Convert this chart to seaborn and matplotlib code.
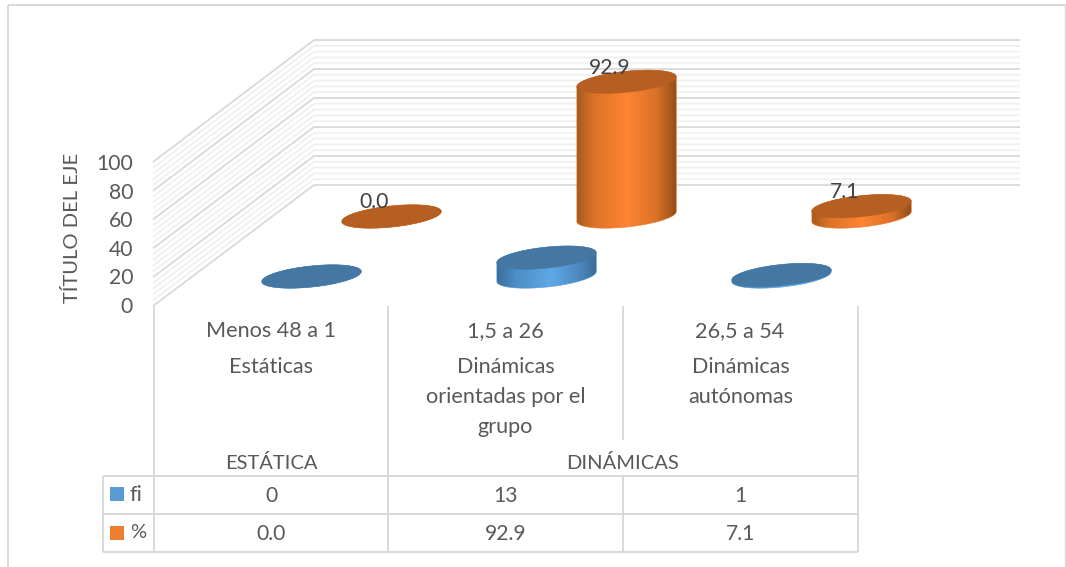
import numpy as np
import matplotlib
matplotlib.use("Agg")
import matplotlib.pyplot as plt
from matplotlib.colors import LinearSegmentedColormap
from matplotlib.patches import Polygon, Rectangle
import seaborn as sns

# datos
rangos = ["Menos 48 a 1", "1,5 a 26", "26,5 a 54"]
niveles = [["Estáticas"], ["Dinámicas", "orientadas por el", "grupo"], ["Dinámicas", "autónomas"]]
grupos = ["ESTÁTICA", "DINÁMICAS"]
fi = [0, 13, 1]
pct = [0.0, 92.9, 7.1]
y_ticks = [0, 20, 40, 60, 80, 100]
y_title = "TÍTULO DEL EJE"

W, H = 1066, 567
GRIS = "#d9d9d9"
TEXTO = "#595959"

# geometria del dibujo en pixeles
PX_VAL = 1.45      # pixeles por unidad del eje y
PX_CAT = 235       # pixeles entre categorias
RX, RY, TILT = 50, 10.5, np.radians(6)

sns.set_theme(style="white")
plt.rcParams["font.family"] = ["Lato", "DejaVu Sans"]
FS = 15.6      # texto en minusculas
FS_NUM = 15.2  # numeros
FS_CAP = 14.5  # mayusculas

fig = plt.figure(figsize=(W / 100, H / 100), dpi=100)
ax = fig.add_axes([0, 0, 1, 1])
ax.set_xlim(0, W)
ax.set_ylim(H, 0)
ax.set_axis_off()


def linea(xs, ys, color=GRIS, lw=1.4):
    ax.plot(xs, ys, color=color, lw=lw, solid_capstyle="butt")


# marco exterior
linea([8, W], [5, 5])
linea([8, 8], [5, H])
linea([1065, 1065], [5, H], lw=1.0)

# paredes: lineas secundarias primero
for v in range(0, 101, 4):
    if v % 20 == 0:
        continue
    linea([153, 314, 1020], [306 - 1.44 * v, 185 - 1.45 * v, 185 - 1.45 * v], color="#f0f0f0", lw=1.3)
for v in y_ticks:
    linea([153, 314, 1020], [306 - 1.44 * v, 185 - 1.45 * v, 185 - 1.45 * v], lw=1.3)
    ax.text(133, 307 - 1.43 * v, str(v), ha="right", va="center", fontsize=FS_NUM, color=TEXTO)
ax.text(72, 228, y_title, rotation=90, ha="center", va="center", fontsize=FS_CAP, color=TEXTO)

# tabla de datos
x_col = [154, 388, 623, 858]
y_fil = [476, 514, 552]
linea([154, 154], [306, 552])
linea([388, 388], [306, 552])
linea([623, 623], [306, 440])
linea([623, 623], [476, 552])
linea([858, 858], [306, 552])
linea([103, 103], [476, 552])
for y in y_fil:
    linea([103, 858], [y, y])

for i, r in enumerate(rangos):
    xc = (x_col[i] + x_col[i + 1]) / 2
    ax.text(xc - 0.5, 331, r, ha="center", va="center", fontsize=FS, color=TEXTO)
    for j, t in enumerate(niveles[i]):
        ax.text(xc, 367 + 30 * j, t, ha="center", va="center", fontsize=FS, color=TEXTO)
    ax.text(xc, 496, str(fi[i]), ha="center", va="center", fontsize=FS_NUM, color=TEXTO)
    ax.text(xc, 534, f"{pct[i]:.1f}", ha="center", va="center", fontsize=FS_NUM, color=TEXTO)
ax.text((x_col[0] + x_col[1]) / 2, 463, grupos[0], ha="center", va="center", fontsize=FS_CAP, color=TEXTO)
ax.text((x_col[1] + x_col[3]) / 2, 463, grupos[1], ha="center", va="center", fontsize=FS_CAP, color=TEXTO)

ax.add_patch(Rectangle((110, 487), 14, 14, color="#5b9bd5", lw=0))
ax.add_patch(Rectangle((110, 526), 14, 14, color="#ed7d31", lw=0))
ax.text(130, 495, "fi", ha="left", va="center", fontsize=FS, color=TEXTO)
ax.text(130, 533, "%", ha="left", va="center", fontsize=FS_CAP, color=TEXTO)

cm_azul = LinearSegmentedColormap.from_list(
    "azul", [(0, "#3b6f9e"), (0.2, "#4d8fc7"), (0.55, "#5fa8e8"), (0.85, "#4a85ba"), (1, "#3a6a96")])
cm_nar = LinearSegmentedColormap.from_list(
    "nar", [(0, "#a65a1e"), (0.17, "#dc7229"), (0.5, "#ff8533"), (0.8, "#d97028"), (1, "#8f4d18")])


def elipse(i, v, t):
    ex = RX * np.cos(t) * np.cos(TILT) + RY * np.sin(t) * np.sin(TILT)
    ey = RX * np.cos(t) * np.sin(TILT) - RY * np.sin(t) * np.cos(TILT)
    return np.column_stack([i + ex / PX_CAT, v + ey / PX_VAL])


def cilindros(valores, x0, base, cmap, color, tapa, etiquetas=False):
    # ejes transparentes: y de -20 a 120 para dejar sitio a las elipses
    a = fig.add_axes([(x0 - PX_CAT / 2) / W, (H - base - 20 * PX_VAL) / H,
                      3 * PX_CAT / W, 140 * PX_VAL / H])
    sns.barplot(x=rangos, y=valores, color=color, saturation=1,
                width=2 * RX / PX_CAT, ax=a)
    t0 = np.arctan(RY / RX * np.tan(TILT))
    for i, (bar, v) in enumerate(zip(a.patches, valores)):
        abajo = elipse(i, 0, np.linspace(t0, t0 + np.pi, 100))
        arriba = elipse(i, v, np.linspace(t0 + np.pi, t0 + 2 * np.pi, 100))
        forma = Polygon(np.vstack([abajo, arriba]), closed=True, fc="none",
                        ec=cmap(0.35), lw=0.4, zorder=4)
        a.add_patch(forma)
        bar.set_clip_path(forma)
        im = a.imshow(np.linspace(0, 1, 256)[None, :], cmap=cmap, aspect="auto",
                      extent=(i - RX / PX_CAT, i + RX / PX_CAT, -20, 120), zorder=3)
        im.set_clip_path(forma)
        a.add_patch(Polygon(elipse(i, v, np.linspace(0, 2 * np.pi, 200)), closed=True,
                            fc=tapa, ec=tapa, lw=0.3, zorder=5))
        if etiquetas:
            a.annotate(f"{v:.1f}", (i, v), xytext=(-17, 14), textcoords="offset pixels",
                       ha="center", va="center", fontsize=FS_NUM, color="#404040", zorder=6)
    a.set_xlim(-0.5, 2.5)
    a.set_ylim(-20, 120)
    a.set_axis_off()
    a.patch.set_alpha(0)
    return a


cilindros(pct, 391.5, 216.5, cm_nar, "#ed7d31", "#b65f22", etiquetas=True)
cilindros(fi, 311.5, 276.5, cm_azul, "#5b9bd5", "#4577a3")

fig.savefig("out.png", dpi=100)
